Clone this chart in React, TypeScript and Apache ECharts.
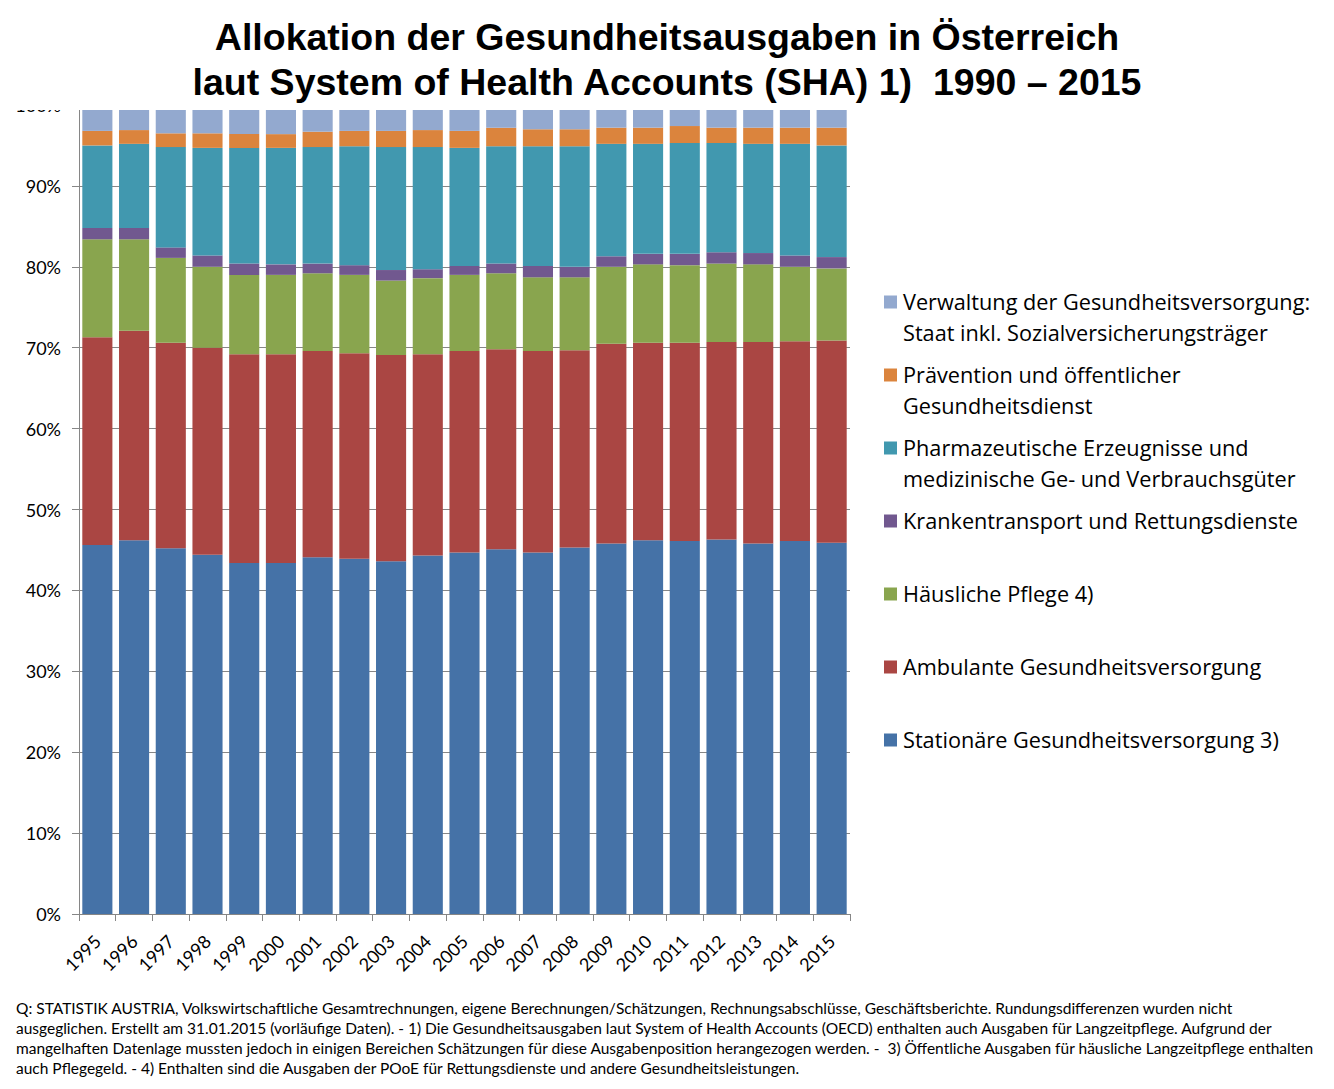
import React, { useEffect, useRef } from "react";
import * as echarts from "echarts";

const years = ["1995","1996","1997","1998","1999","2000","2001","2002","2003","2004","2005","2006","2007","2008","2009","2010","2011","2012","2013","2014","2015"];

const stationaer = [45.6,46.2,45.2,44.4,43.4,43.4,44.1,43.9,43.6,44.3,44.7,45.1,44.7,45.3,45.8,46.2,46.1,46.3,45.8,46.1,45.9];
const ambulant = [25.7,25.9,25.4,25.6,25.8,25.8,25.5,25.4,25.5,24.9,24.9,24.7,24.9,24.4,24.7,24.4,24.5,24.4,24.9,24.7,25.0];
const haeuslich = [12.1,11.3,10.5,10.0,9.8,9.8,9.6,9.7,9.2,9.4,9.4,9.4,9.1,9.0,9.5,9.7,9.6,9.7,9.6,9.2,8.9];
const transport = [1.4,1.4,1.3,1.4,1.4,1.3,1.2,1.2,1.3,1.1,1.1,1.2,1.4,1.3,1.3,1.3,1.4,1.4,1.4,1.4,1.4];
const pharma = [10.2,10.4,12.4,13.3,14.3,14.4,14.4,14.7,15.2,15.1,14.6,14.5,14.8,14.9,13.9,13.6,13.7,13.5,13.5,13.8,13.8];
const praevention = [1.8,1.7,1.7,1.8,1.7,1.7,1.9,1.9,2.0,2.1,2.1,2.3,2.1,2.1,2.0,2.0,2.1,1.9,2.0,2.0,2.2];
const verwaltung = [3.2,3.1,3.5,3.5,3.6,3.6,3.3,3.2,3.2,3.1,3.2,2.8,3.0,3.0,2.8,2.8,2.6,2.8,2.8,2.8,2.8];

const seriesNames = [
  "Stationäre Gesundheitsversorgung 3)",
  "Ambulante Gesundheitsversorgung",
  "Häusliche Pflege 4)",
  "Krankentransport und Rettungsdienste",
  "Pharmazeutische Erzeugnisse und\nmedizinische Ge- und Verbrauchsgüter",
  "Prävention und öffentlicher\nGesundheitsdienst",
  "Verwaltung der Gesundheitsversorgung:\nStaat inkl. Sozialversicherungsträger",
];
const seriesData = [stationaer, ambulant, haeuslich, transport, pharma, praevention, verwaltung];
const colors = ["#4572A7", "#AA4643", "#89A54E", "#71588F", "#4198AF", "#DB843D", "#93A9CF"];

const titleText = "Allokation der Gesundheitsausgaben in Österreich\nlaut System of Health Accounts (SHA) 1)  1990 – 2015";

const footnoteLines = [
  "Q: STATISTIK AUSTRIA, Volkswirtschaftliche Gesamtrechnungen, eigene Berechnungen/Schätzungen, Rechnungsabschlüsse, Geschäftsberichte. Rundungsdifferenzen wurden nicht",
  "ausgeglichen. Erstellt am 31.01.2015 (vorläufige Daten). - 1) Die Gesundheitsausgaben laut System of Health Accounts (OECD) enthalten auch Ausgaben für Langzeitpflege. Aufgrund der",
  "mangelhaften Datenlage mussten jedoch in einigen Bereichen Schätzungen für diese Ausgabenposition herangezogen werden. -  3) Öffentliche Ausgaben für häusliche Langzeitpflege enthalten",
  "auch Pflegegeld. - 4) Enthalten sind die Ausgaben der POoE für Rettungsdienste und andere Gesundheitsleistungen.",
];

export default function App() {
  const ref = useRef<HTMLDivElement>(null);
  useEffect(() => {
    if (!ref.current) return;
    const chart = echarts.init(ref.current, null, { renderer: "svg" });

    const legendTop = 302;
    const legendStep = 73;
    const legendGraphics: any[] = [];
    for (let i = 0; i < seriesNames.length; i++) {
      const idx = seriesNames.length - 1 - i;
      const cy = legendTop + i * legendStep;
      legendGraphics.push({
        type: "rect",
        shape: { x: 884, y: cy - 6.5, width: 13, height: 13 },
        style: { fill: colors[idx] },
        z: 50,
      });
      legendGraphics.push({
        type: "text",
        x: 903,
        y: cy - 16.5,
        style: {
          text: seriesNames[idx],
          fontFamily: "Open Sans",
          fontSize: 21.7,
          lineHeight: 31,
          fill: "#000",
          verticalAlign: "top",
        },
        z: 50,
      });
    }

    chart.setOption({
      animation: false,
      backgroundColor: "#ffffff",
      title: {
        text: titleText,
        left: "center",
        top: 9,
        z: 200,
        textStyle: {
          fontFamily: "Liberation Sans",
          fontWeight: "bold",
          fontSize: 37.5,
          lineHeight: 45,
          color: "#000",
        },
      },
      grid: { left: 79, right: 484, top: 105, bottom: 175, containLabel: false },
      xAxis: {
        type: "category",
        data: years,
        boundaryGap: true,
        axisLine: { lineStyle: { color: "#868686", width: 1 } },
        axisTick: { show: true, length: 7, alignWithLabel: false, lineStyle: { color: "#868686" } },
        axisLabel: {
          rotate: 45,
          fontFamily: "Lato",
          fontSize: 18,
          color: "#000",
          margin: 24,
          interval: 0,
        },
      },
      yAxis: {
        type: "value",
        min: 0,
        max: 100,
        interval: 10,
        axisLine: { show: true, lineStyle: { color: "#868686", width: 1 } },
        axisTick: { show: true, length: 7, lineStyle: { color: "#868686" } },
        splitLine: { show: true, lineStyle: { color: "#868686", width: 1 } },
        axisLabel: {
          formatter: "{value}%",
          fontFamily: "Lato",
          fontSize: 18,
          color: "#000",
          margin: 18,
        },
      },
      series: seriesData.map((d, i) => ({
        name: seriesNames[i],
        type: "bar",
        stack: "total",
        data: d,
        barCategoryGap: "18%",
        itemStyle: { color: colors[i] },
      })),
      graphic: [
        {
          type: "rect",
          shape: { x: 0, y: 0, width: 870, height: 110 },
          style: { fill: "#ffffff" },
          z: 100,
        },
        ...legendGraphics,
        {
          type: "text",
          x: 16,
          y: 998,
          style: {
            text: footnoteLines.join("\n"),
            fontFamily: "Lato",
            fontSize: 15.5,
            lineHeight: 20,
            fill: "#000",
            verticalAlign: "top",
          },
          z: 50,
        },
      ],
    });
    return () => chart.dispose();
  }, []);
  return (
    <div
      ref={ref}
      style={{ position: "absolute", left: 0, top: 0, width: 1334, height: 1089 }}
    />
  );
}
